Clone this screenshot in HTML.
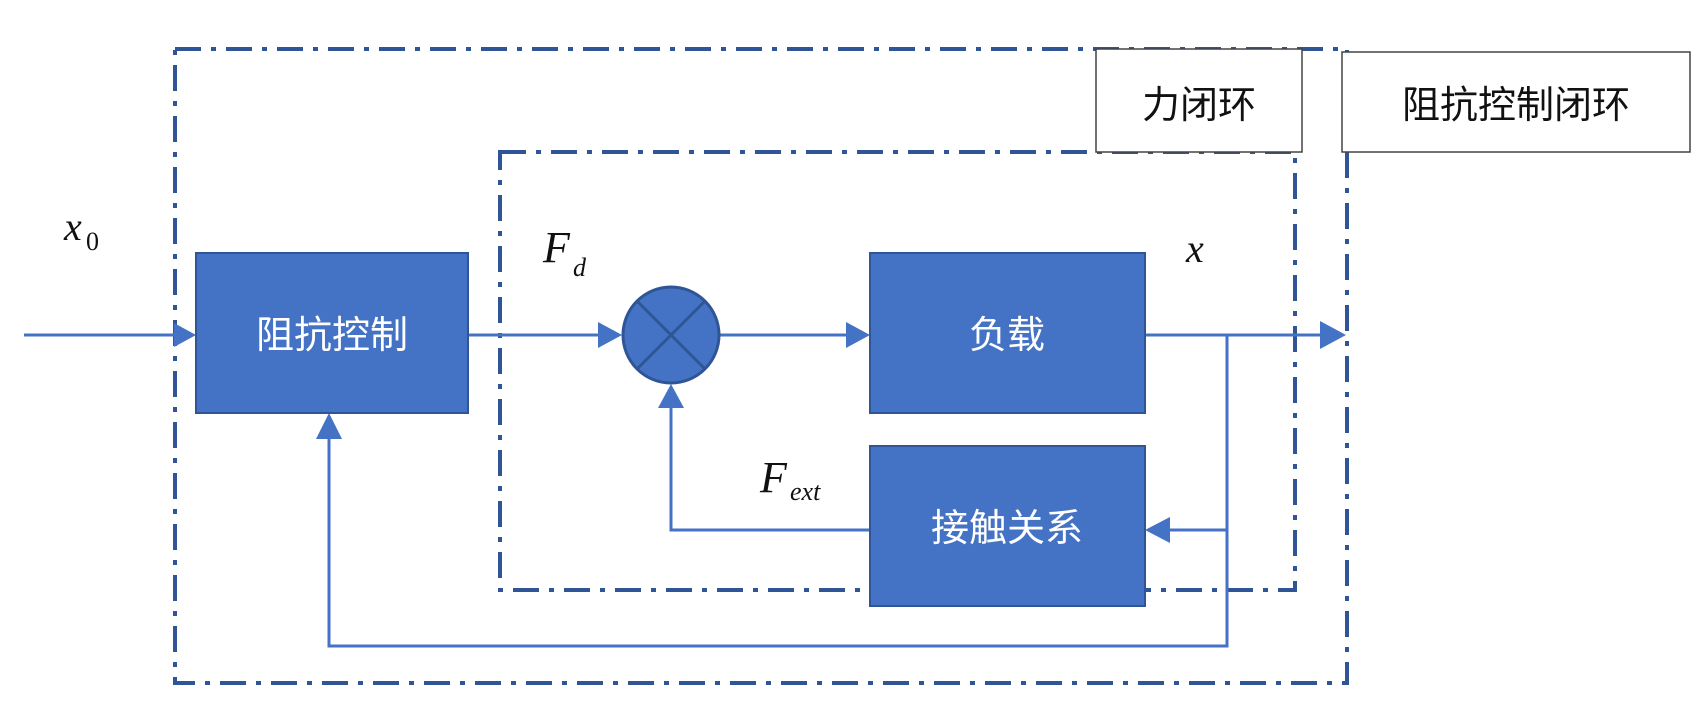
<!DOCTYPE html>
<html><head><meta charset="utf-8"><style>
html,body{margin:0;padding:0;background:#fff;}
svg{display:block}
.cn{font-family:"Liberation Sans","Noto Sans CJK SC",sans-serif;}
.m{font-family:"Liberation Serif",serif;font-style:italic;fill:#111;}
</style></head><body>
<svg width="1706" height="706" viewBox="0 0 1706 706" xmlns="http://www.w3.org/2000/svg">
<defs>
<marker id="a" markerWidth="10" markerHeight="10" refX="9" refY="5" orient="auto" markerUnits="userSpaceOnUse">
</marker>
</defs>
<g fill="none" stroke="#2F5597" stroke-width="4" stroke-dasharray="26,10,5,10">
<rect x="175" y="49" width="1172" height="634"/>
<rect x="500" y="152" width="795" height="438"/>
</g>
<!-- label boxes -->
<rect x="1096" y="49" width="206" height="103" fill="#fff" stroke="#444" stroke-width="1.5"/>
<text x="1199" y="118" text-anchor="middle" class="cn" font-size="38" fill="#111">力闭环</text>
<rect x="1342" y="52" width="348" height="100" fill="#fff" stroke="#444" stroke-width="1.5"/>
<text x="1516" y="118" text-anchor="middle" class="cn" font-size="38" fill="#111">阻抗控制闭环</text>
<!-- lines -->
<g stroke="#4472C4" stroke-width="3" fill="none">
<line x1="24" y1="335" x2="180" y2="335"/>
<line x1="468" y1="335" x2="606" y2="335"/>
<line x1="720" y1="335" x2="854" y2="335"/>
<line x1="1145" y1="335" x2="1328" y2="335"/>
<polyline points="1227,335 1227,646 329,646 329,428"/>
<line x1="1227" y1="530" x2="1162" y2="530"/>
<polyline points="870,530 671,530 671,400"/>
</g>
<g fill="#4472C4">
<polygon points="196,335 174,323 174,347"/>
<polygon points="622,335 598,322 598,348"/>
<polygon points="870,335 846,322 846,348"/>
<polygon points="1346,335 1320,321 1320,349"/>
<polygon points="329,413 316,439 342,439"/>
<polygon points="671,384 658,408 684,408"/>
<polygon points="1145,530 1170,517 1170,543"/>
</g>
<!-- blocks -->
<g fill="#4472C4" stroke="#2F5597" stroke-width="2">
<rect x="196" y="253" width="272" height="160"/>
<rect x="870" y="253" width="275" height="160"/>
<rect x="870" y="446" width="275" height="160"/>
<circle cx="671" cy="335" r="48" stroke-width="3"/>
</g>
<g stroke="#2F5597" stroke-width="3">
<line x1="637" y1="301" x2="705" y2="369"/>
<line x1="705" y1="301" x2="637" y2="369"/>
</g>
<g class="cn" fill="#fff" font-size="38" text-anchor="middle">
<text x="332" y="348">阻抗控制</text>
<text x="1007" y="348">负载</text>
<text x="1007" y="541">接触关系</text>
</g>
<text x="64" y="240" class="m" font-size="40">x</text>
<text x="86" y="250" font-family="Liberation Serif,serif" font-size="26" fill="#111">0</text>
<text x="543" y="262" class="m" font-size="44">F</text>
<text x="573" y="276" class="m" font-size="26">d</text>
<text x="1186" y="262" class="m" font-size="40">x</text>
<text x="760" y="492" class="m" font-size="44">F</text>
<text x="790" y="500" class="m" font-size="26">ext</text>
</svg>
</body></html>
